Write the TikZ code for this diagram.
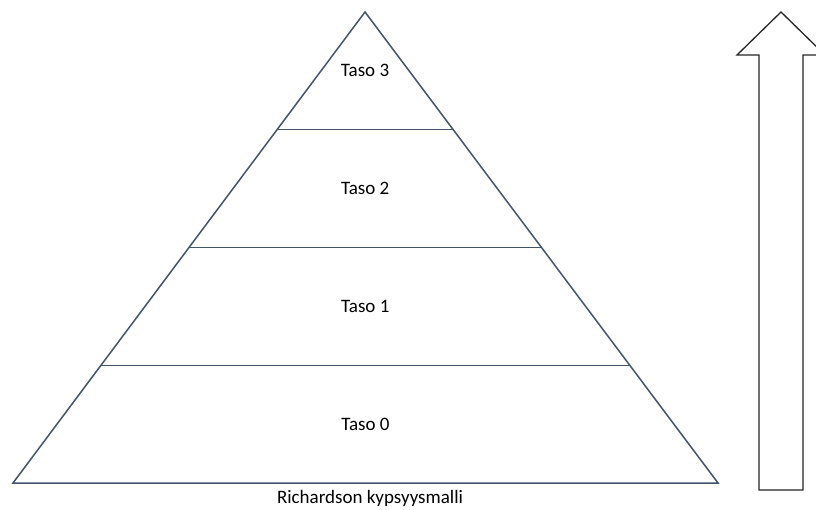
\documentclass[tikz,border=0pt]{standalone}
\usepackage{fontspec}
\setmainfont{Carlito}
\usetikzlibrary{positioning, calc}
\definecolor{edgegray}{HTML}{44546A}
\definecolor{arrowgray}{HTML}{262626}

\begin{document}
\begin{tikzpicture}[
  x=1pt, y=-1pt,
  font=\fontsize{19}{23}\selectfont,
  level/.style={draw=edgegray, line width=1.5pt},
  lbl/.style={inner sep=0pt, text=black},
  bigarrow/.style={draw=arrowgray, line width=1.3pt, fill=white, line join=miter}
]
\useasboundingbox[fill=white] (0,0) rectangle (816,510);

\coordinate (top) at (365,12);
\coordinate (bl) at (13,483);
\coordinate (br) at (718,483);

% pyramid outline and levels
\draw[level] (top) -- (bl) -- (br) -- cycle;
\foreach \t/\n in {0.25/a, 0.5/b, 0.75/c} {
  \coordinate (l\n) at ($(top)!\t!(bl)$);
  \coordinate (r\n) at ($(top)!\t!(br)$);
  \draw[level] (l\n) -- (r\n);
}

\node[lbl] (t3) at ($(top)!0.5!($(la)!0.5!(ra)$)$) {Taso 3};
\node[lbl] (t2) at ($($(la)!0.5!(ra)$)!0.5!($(lb)!0.5!(rb)$)$) {Taso 2};
\node[lbl] (t1) at ($($(lb)!0.5!(rb)$)!0.5!($(lc)!0.5!(rc)$)$) {Taso 1};
\node[lbl] (t0) at ($($(lc)!0.5!(rc)$)!0.5!($(bl)!0.5!(br)$)$) {Taso 0};

\node[lbl] (caption) at (370,498) {Richardson kypsyysmalli};

% arrow on the right
\coordinate (tip) at (781,12);
\draw[bigarrow] (tip) -- (825,55) -- (803,55) -- (803,490) -- (759,490)
  -- (759,55) -- (737,55) -- cycle;
\end{tikzpicture}
\end{document}
